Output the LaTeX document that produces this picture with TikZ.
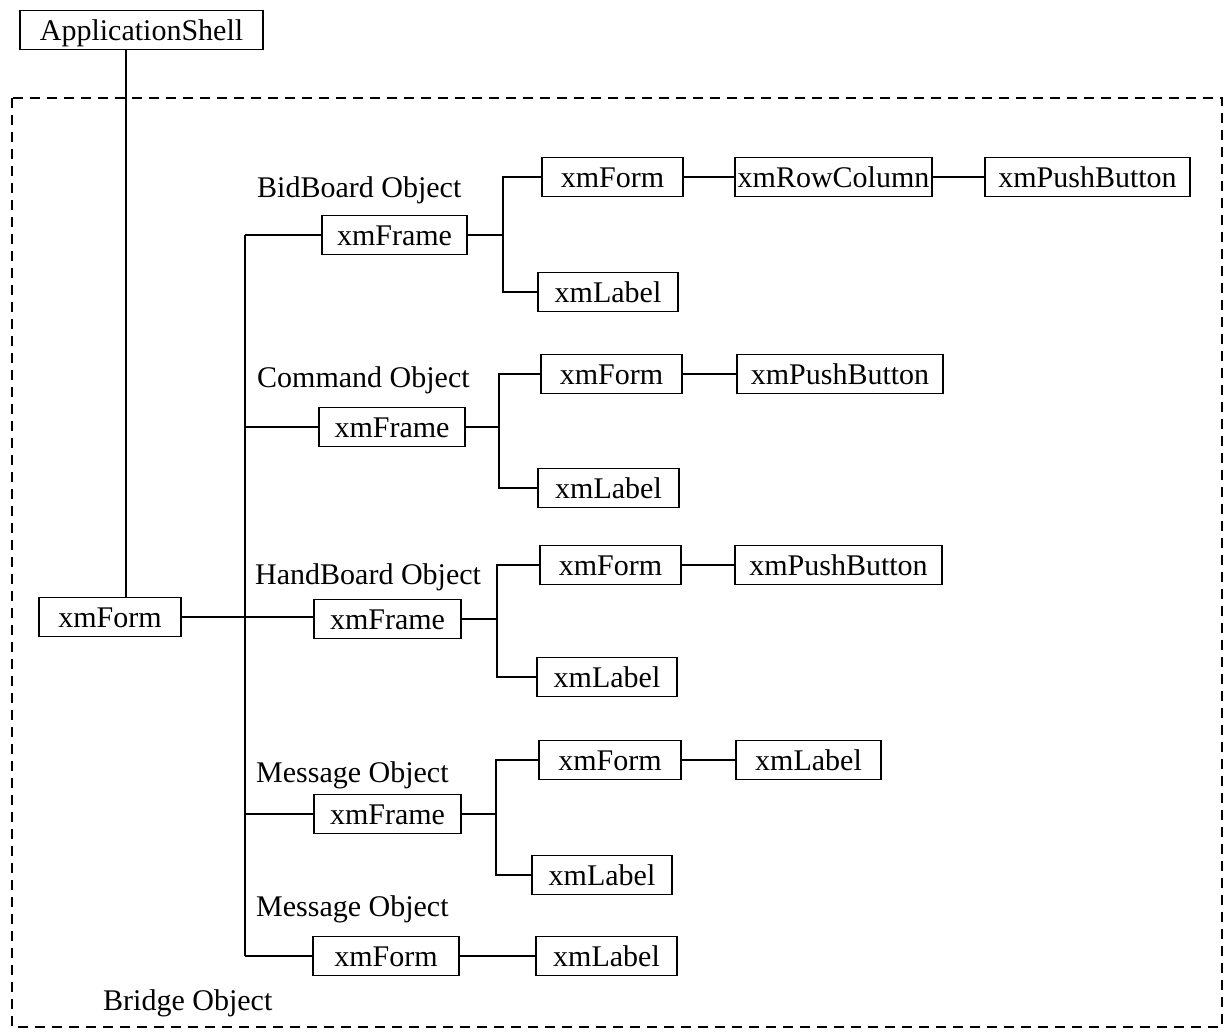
\documentclass[tikz,border=0pt]{standalone}
\usepackage{fontspec}
\setmainfont{Liberation Serif}
\begin{document}
\begin{tikzpicture}[x=1pt,y=-1pt,
  wbox/.style={draw, line width=1.5pt, minimum height=39pt, inner sep=0pt,
    text height=23pt, text depth=2pt, font=\fontsize{30}{36}\selectfont},
  lbl/.style={anchor=base west, inner sep=0pt, font=\fontsize{30}{36}\selectfont},
  conn/.style={line width=1.5pt},
  bound/.style={line width=1.5pt, dash pattern=on 10pt off 7pt}]
\useasboundingbox (0,0) rectangle (1230,1032);

% boundary of the Bridge Object
\draw[bound] (12,98) rectangle (1222,1027);

% helper coordinates
\coordinate (tA) at (126,0);
\coordinate (trunk) at (245,0);
\coordinate (bdFk) at (503,0);
\coordinate (cmFk) at (499,0);
\coordinate (hbFk) at (497,0);
\coordinate (m1Fk) at (496,0);

% nodes
\node[wbox, minimum width=243pt] (appshell) at (141.5,30) {ApplicationShell};
\node[wbox, minimum width=142pt] (root) at (110,617) {xmForm};

% BidBoard
\node[lbl] (bdT) at (257,198) {BidBoard Object};
\node[wbox, minimum width=145pt] (bdFrame) at (394.5,235) {xmFrame};
\node[wbox, minimum width=141pt] (bdForm) at (612.5,177) {xmForm};
\node[wbox, minimum width=140pt] (bdLabel) at (608,292) {xmLabel};
\node[wbox, minimum width=197pt] (bdRC) at (833.5,177) {xmRowColumn};
\node[wbox, minimum width=205pt] (bdPB) at (1087.5,177) {xmPushButton};

% Command
\node[lbl] (cmT) at (257,387) {Command Object};
\node[wbox, minimum width=146pt] (cmFrame) at (392,427) {xmFrame};
\node[wbox, minimum width=141pt] (cmForm) at (611.5,374) {xmForm};
\node[wbox, minimum width=141pt] (cmLabel) at (608.5,488) {xmLabel};
\node[wbox, minimum width=206pt] (cmPB) at (840,374) {xmPushButton};

% HandBoard
\node[lbl] (hbT) at (255,584) {HandBoard Object};
\node[wbox, minimum width=147pt] (hbFrame) at (387.5,619) {xmFrame};
\node[wbox, minimum width=141pt] (hbForm) at (610.5,565) {xmForm};
\node[wbox, minimum width=140pt] (hbLabel) at (607,677) {xmLabel};
\node[wbox, minimum width=207pt] (hbPB) at (838.5,565) {xmPushButton};

% Message 1
\node[lbl] (m1T) at (256,782) {Message Object};
\node[wbox, minimum width=147pt] (m1Frame) at (387.5,814) {xmFrame};
\node[wbox, minimum width=142pt] (m1Form) at (610,760) {xmForm};
\node[wbox, minimum width=145pt] (m1Label2) at (808.5,760) {xmLabel};
\node[wbox, minimum width=140pt] (m1Label) at (602,875) {xmLabel};

% Message 2
\node[lbl] (m2T) at (256,916) {Message Object};
\node[wbox, minimum width=146pt] (m2Form) at (386,956) {xmForm};
\node[wbox, minimum width=141pt] (m2Label) at (606.5,956) {xmLabel};

% Bridge label
\node[lbl] (brT) at (103,1010) {Bridge Object};

% connectors
\draw[conn] (appshell.south -| tA) -- (root.north -| tA);
\draw[conn] (root.east) -- (root.east -| hbFrame.west);
\draw[conn] (trunk |- bdFrame.west) -- (trunk |- m2Form.west);
\draw[conn] (trunk |- bdFrame.west) -- (bdFrame.west);
\draw[conn] (trunk |- cmFrame.west) -- (cmFrame.west);
\draw[conn] (trunk |- m1Frame.west) -- (m1Frame.west);
\draw[conn] (trunk |- m2Form.west) -- (m2Form.west);

% BidBoard fork and chain
\draw[conn] (bdFrame.east) -- (bdFrame.east -| bdFk);
\draw[conn] (bdForm.west) -- (bdForm.west -| bdFk) -- (bdLabel.west -| bdFk) -- (bdLabel.west);
\draw[conn] (bdForm.east) -- (bdRC.west);
\draw[conn] (bdRC.east) -- (bdPB.west);

% Command fork and chain
\draw[conn] (cmFrame.east) -- (cmFrame.east -| cmFk);
\draw[conn] (cmForm.west) -- (cmForm.west -| cmFk) -- (cmLabel.west -| cmFk) -- (cmLabel.west);
\draw[conn] (cmForm.east) -- (cmPB.west);

% HandBoard fork and chain
\draw[conn] (hbFrame.east) -- (hbFrame.east -| hbFk);
\draw[conn] (hbForm.west) -- (hbForm.west -| hbFk) -- (hbLabel.west -| hbFk) -- (hbLabel.west);
\draw[conn] (hbForm.east) -- (hbPB.west);

% Message 1 fork and chain
\draw[conn] (m1Frame.east) -- (m1Frame.east -| m1Fk);
\draw[conn] (m1Form.west) -- (m1Form.west -| m1Fk) -- (m1Label.west -| m1Fk) -- (m1Label.west);
\draw[conn] (m1Form.east) -- (m1Label2.west);

% Message 2 chain
\draw[conn] (m2Form.east) -- (m2Label.west);
\end{tikzpicture}
\end{document}
